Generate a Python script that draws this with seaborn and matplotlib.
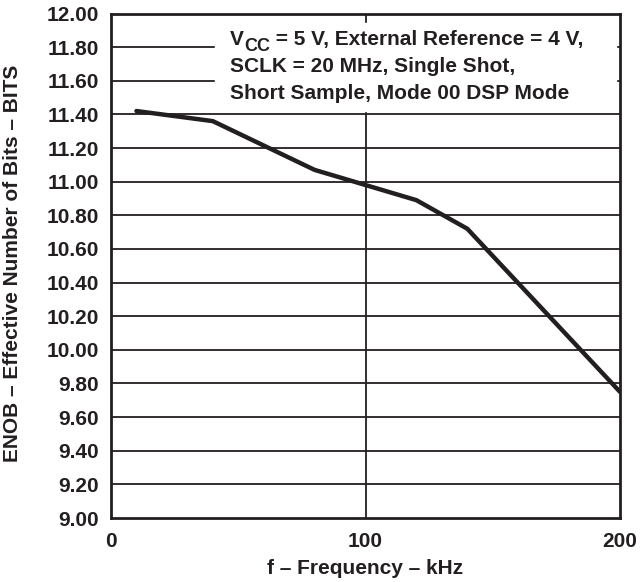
import matplotlib
matplotlib.use('Agg')
import numpy as np
import pandas as pd
import seaborn as sns
import matplotlib.pyplot as plt
from matplotlib.transforms import offset_copy

# =========================================
# DATA
# =========================================

freq_khz = [10, 40, 80, 120, 140, 200]
enob_bits = [11.42, 11.36, 11.07, 10.89, 10.72, 9.75]

y_ticks = [9.0, 9.2, 9.4, 9.6, 9.8, 10.0, 10.2, 10.4, 10.6, 10.8,
           11.0, 11.2, 11.4, 11.6, 11.8, 12.0]
x_ticks = [0, 100, 200]

note_lines = [
    " = 5 V, External Reference = 4 V,",
    "SCLK = 20 MHz, Single Shot,",
    "Short Sample, Mode 00 DSP Mode",
]

# =========================================
# STYLE
# =========================================

sns.set_style("white")
plt.rcParams['font.family'] = ['Liberation Sans', 'DejaVu Sans']
plt.rcParams['font.weight'] = 'bold'

ink = "#231f20"
fs = 15

df = pd.DataFrame({"f": freq_khz, "enob": enob_bits})

fig = plt.figure(figsize=(6.44, 5.82), dpi=100)
ax = fig.add_subplot(111)
fig.subplots_adjust(left=111 / 644, right=620 / 644,
                    top=1 - 13.5 / 582, bottom=1 - 518 / 582)

# grid
for yv in y_ticks[1:-1]:
    ax.axhline(yv, color=ink, lw=1.3, zorder=1)
ax.axvline(100, color=ink, lw=1.3, zorder=1)

sns.lineplot(data=df, x="f", y="enob", ax=ax, color=ink,
             lw=3.2, zorder=4, legend=False)

ax.set_xlim(0, 200)
ax.set_ylim(9.0, 12.0)
ax.set_xticks(x_ticks)
ax.set_yticks(y_ticks)
ax.set_yticklabels([f"{v:.2f}" for v in y_ticks])
ax.tick_params(length=0, labelsize=fs, colors=ink)
ax.tick_params(axis='y', pad=8.5)
ax.tick_params(axis='x', pad=10)

for s in ax.spines.values():
    s.set_linewidth(2.0)
    s.set_color(ink)
    s.set_zorder(5)

ax.set_xlabel("f \u2013 Frequency \u2013 kHz", fontsize=fs,
              fontweight='bold', color=ink)
ax.xaxis.set_label_coords(0.5, -0.081)
ax.set_ylabel("ENOB \u2013 Effective Number of Bits \u2013 BITS",
              fontsize=fs, fontweight='bold', color=ink)
ax.yaxis.set_label_coords(-0.175, 0.505)

# note box (white, hides grid)
ax.fill_between([41, 198.5], 11.42, 11.945, color="white", zorder=2)

x0 = 46.8
baselines = [11.811, 11.654, 11.493]

# first line: V + subscript CC + rest
fig.canvas.draw()
renderer = fig.canvas.get_renderer()
t_v = ax.text(x0, baselines[0], "V", fontsize=fs, fontweight='bold',
              color=ink, va='baseline', ha='left', zorder=3)
w_v = t_v.get_window_extent(renderer).width
t_cc = ax.text(x0, baselines[0], "CC", fontsize=13, fontweight='bold',
               color=ink, va='baseline', ha='left', zorder=3,
               transform=offset_copy(ax.transData, fig=fig, x=w_v * 0.72, y=-4,
                                     units='points'))
w_cc = t_cc.get_window_extent(renderer).width
ax.text(x0, baselines[0], note_lines[0], fontsize=fs, fontweight='bold',
        color=ink, va='baseline', ha='left', zorder=3,
        transform=offset_copy(ax.transData, fig=fig, x=(w_v + w_cc) * 0.72,
                              y=0, units='points'))

for i in (1, 2):
    ax.text(x0, baselines[i], note_lines[i], fontsize=fs, fontweight='bold',
            color=ink, va='baseline', ha='left', zorder=3)

fig.savefig("out.png", dpi=100)
plt.close(fig)
